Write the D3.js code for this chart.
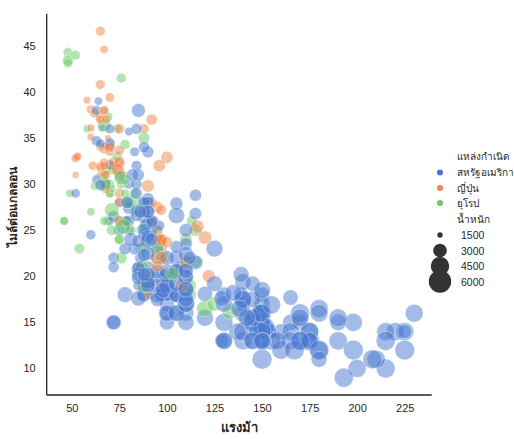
<!DOCTYPE html>
<html><head><meta charset="utf-8">
<script src="https://cdn.jsdelivr.net/npm/d3@7"></script>
<style>
html,body{margin:0;padding:0;background:#fff;}
text{font-family:"Liberation Sans","DejaVu Sans",sans-serif;fill:#262626;}
</style></head>
<body><svg id="c" width="514" height="439"></svg>
<script>
const U="usa",J="japan",E="europe";
const origins=[U,J,E];
const originLabels=["สหรัฐอเมริกา","ญี่ปุ่น","ยุโรป"];
const palette=["#4878d0","#ee854a","#6acc64"];
const xTicks=[50,75,100,125,150,175,200,225];
const yTicks=[10,15,20,25,30,35,40,45];
const sizeLegend=[1500,3000,4500,6000];
const xLabel="แรงม้า", yLabel="ไมล์ต่อแกลลอน", hueTitle="แหล่งกำเนิด", sizeTitle="น้ำหนัก";

const mpg=[
18,15,18,16,17,15,14,14,14,15,15,14,15,14,24,22,18,21,27,26,25,24,25,26,21,10,10,11,9,
27,28,25,19,16,17,19,18,14,14,14,14,12,13,13,18,22,19,18,23,28,30,30,31,35,27,26,
24,25,23,20,21,13,14,15,14,17,11,13,12,13,19,15,13,13,14,18,22,21,26,22,28,23,28,27,
13,14,13,14,15,12,13,13,14,13,12,13,18,16,18,18,23,26,11,12,13,12,18,20,21,22,18,19,21,26,15,16,29,24,20,19,15,24,20,11,
20,19,15,31,26,32,25,16,16,18,16,13,14,14,14,29,26,26,31,32,28,24,26,24,26,31,
19,18,15,15,16,15,16,14,17,16,15,18,21,20,13,29,23,20,23,24,25,24,18,29,19,23,23,22,25,33,
28,25,25,26,27,17.5,16,15.5,14.5,22,22,24,22.5,29,24.5,29,33,20,18,18.5,17.5,29.5,32,28,26.5,20,13,19,19,16.5,16.5,13,13,13,
31.5,30,36,25.5,33.5,17.5,17,15.5,15,17.5,20.5,19,18.5,16,15.5,15.5,16,29,24.5,26,25.5,30.5,33.5,30,30.5,22,21.5,21.5,
43.1,36.1,32.8,39.4,36.1,19.9,19.4,20.2,19.2,20.5,20.2,25.1,20.5,19.4,20.6,20.8,18.6,18.1,19.2,17.7,18.1,17.5,30,27.5,27.2,30.9,21.1,23.2,23.8,23.9,20.3,17,21.6,16.2,31.5,29.5,
21.5,19.8,22.3,20.2,20.6,17,17.6,16.5,18.2,16.9,15.5,19.2,18.5,31.9,34.1,35.7,27.4,25.4,23,27.2,23.9,34.2,34.5,31.8,37.3,28.4,28.8,26.8,33.5,
41.5,38.1,32.1,37.2,28,26.4,24.3,19.1,34.3,29.8,31.3,37,32.2,46.6,27.9,40.8,44.3,43.4,36.4,30,44.6,33.8,29.8,23.7,35,32.4,
27.2,26.6,25.8,23.5,30,39.1,39,35.1,32.3,37,37.7,34.1,34.7,34.4,29.9,33,33.7,32.4,32.9,31.6,28.1,30.7,25.4,24.2,22.4,26.6,20.2,17.6,
28,27,34,31,29,27,24,36,37,31,38,36,36,36,34,38,32,38,25,38,26,22,32,36,27,27,44,32,28,31];

const horsepower=[
130,165,150,150,140,198,220,215,225,190,170,160,150,225,95,95,97,85,88,46,87,90,95,113,90,215,200,210,193,
88,90,95,100,105,100,88,100,165,175,153,150,180,170,175,110,72,100,88,86,90,70,76,65,69,60,70,
95,80,54,90,86,165,175,150,153,150,208,155,160,190,97,150,130,140,150,112,76,87,69,86,92,97,80,88,
175,150,145,137,150,198,150,158,150,215,225,175,105,100,100,88,95,46,150,167,170,180,100,88,72,94,90,85,107,90,145,230,49,75,91,112,150,110,122,180,
95,100,100,67,80,65,75,100,110,105,140,150,150,140,150,83,67,78,52,61,75,75,75,97,93,67,
95,105,72,72,170,145,150,148,110,105,110,95,110,110,129,75,83,100,78,96,71,97,97,70,90,95,88,98,115,53,
86,81,92,79,83,140,150,120,152,100,105,81,90,52,60,70,53,100,78,110,95,71,70,75,72,102,150,88,108,120,180,145,130,150,
68,80,58,96,70,145,110,145,130,110,105,100,98,180,170,190,149,78,88,75,89,63,83,67,78,97,110,110,
48,66,52,70,60,110,140,139,105,95,85,88,100,90,105,85,110,120,145,165,139,140,68,95,97,75,95,105,85,97,103,125,115,133,71,68,
115,85,88,90,110,130,129,138,135,155,142,125,150,71,65,80,80,77,125,71,90,70,70,65,69,90,115,115,90,
76,60,70,65,90,88,90,90,78,90,75,92,75,65,105,65,48,48,67,67,67,67,62,100,88,72,
84,84,92,110,84,58,64,60,67,65,62,68,63,65,65,74,75,75,100,74,80,76,116,120,110,105,88,85,
88,88,88,85,84,90,92,74,68,68,63,70,88,75,70,67,67,67,110,85,92,112,96,84,90,86,52,84,79,82];

const weight=[
3504,3693,3436,3433,3449,4341,4354,4312,4425,3850,3563,3609,3761,3086,2372,2833,2774,2587,2130,1835,2672,2430,2375,2234,2648,4615,4376,4382,4732,
2130,2264,2228,2634,3439,3329,3302,3288,4209,4464,4154,4096,4955,4746,5140,2962,2408,3282,3139,2220,2123,2074,2065,1773,1613,1834,1955,
2278,2126,2254,2408,2226,4274,4385,4135,4129,3672,4633,4502,4456,4422,2330,3892,4098,4294,4077,2933,2511,2979,2189,2395,2288,2506,2164,2100,
4100,3672,3988,4042,3777,4952,4464,4363,4237,4735,4951,3821,3121,3278,2945,3021,2904,1950,4997,4906,4654,4499,2789,2279,2401,2379,2124,2310,2472,2265,4082,4278,1867,2158,2582,2868,3399,2660,2807,3664,
3102,2901,3336,1950,2451,1836,2542,3781,3632,3613,4141,4699,4457,4638,4257,2219,1963,2300,1649,2003,2125,2108,2246,2489,2391,2000,
3264,3459,3432,3158,4668,4440,4498,4657,3907,3897,3730,3785,3039,3221,3169,2171,2639,2914,2592,2702,2223,2545,2984,1937,3211,2694,2957,2945,2671,1795,
2464,2220,2572,2255,2202,4215,4190,3962,4215,3233,3353,3012,3085,2035,2164,1937,1795,3651,3574,3645,3193,1825,1990,2155,2565,3150,3940,3270,2930,3820,4380,4055,3870,3755,
2045,2155,1825,2300,1945,3880,4060,4140,4295,3520,3425,3630,3525,4220,4165,4325,4335,1940,2740,2265,2755,2051,2075,1985,2190,2815,2600,2720,
1985,1800,1985,2070,1800,3365,3735,3570,3535,3155,2965,2720,3430,3210,3380,3070,3620,3410,3425,3445,3205,4080,2155,2560,2300,2230,2515,2745,2855,2405,2830,3140,2795,3410,1990,2135,
3245,2990,2890,3265,3360,3840,3725,3955,3830,4360,4054,3605,3940,1925,1975,1915,2670,3530,3900,3190,3420,2200,2150,2020,2130,2670,2595,2700,2556,
2144,1968,2120,2019,2678,2870,3003,3381,2188,2711,2542,2434,2265,2110,2800,2110,2085,2335,2950,3250,1850,2145,1845,2420,2500,2290,
2490,2635,2620,2725,2385,1755,1875,1760,2065,1975,2050,1985,2215,2045,2380,2190,2210,2350,2615,2635,3230,3160,2900,2930,3415,3725,3060,3465,
2605,2640,2395,2575,2525,2735,2865,1980,2025,1970,2125,2125,2160,2205,2245,1965,1965,1995,2945,3015,2585,2835,2665,2370,2950,2790,2130,2295,2625,2720];

const origin=[
U,U,U,U,U,U,U,U,U,U,U,U,U,U,J,U,U,U,J,E,E,E,E,E,U,U,U,U,U,
J,U,J,U,U,U,U,U,U,U,U,U,U,U,U,U,U,U,U,U,E,E,E,J,J,E,U,
J,U,E,U,U,U,U,U,U,U,U,U,U,U,J,U,U,U,U,E,E,E,E,U,J,J,U,J,
U,U,U,U,U,U,U,U,U,U,U,U,U,U,U,U,U,E,U,U,U,U,U,J,U,J,J,U,U,E,U,U,E,E,E,E,U,E,J,U,
U,U,U,J,U,J,U,U,U,U,U,U,U,U,U,E,E,E,J,J,U,E,E,J,J,E,
U,U,U,U,U,U,U,U,U,U,U,U,U,U,U,J,U,U,U,J,E,J,U,E,U,E,E,E,E,J,
E,E,U,U,E,U,U,U,U,U,U,U,U,U,U,E,J,U,U,U,U,E,J,J,U,E,U,E,J,E,U,U,U,U,
J,U,E,U,J,U,U,U,U,U,U,U,U,U,U,U,U,E,U,J,U,U,U,J,E,J,E,J,
E,U,J,J,J,U,U,U,U,U,U,U,U,U,U,U,U,U,U,U,U,U,U,J,J,U,J,U,U,J,E,E,E,E,E,J,
U,U,U,U,U,U,U,U,U,U,U,U,U,E,J,U,U,E,U,E,U,U,U,J,E,U,U,U,U,
E,J,U,J,U,U,U,U,E,J,J,J,J,J,U,J,E,E,E,E,J,J,E,J,E,J,
U,U,U,U,U,J,U,J,J,J,J,J,U,U,U,E,J,J,J,J,E,E,J,J,U,U,U,U,
U,U,U,U,U,U,U,E,J,J,U,U,J,J,J,J,J,J,U,U,U,U,J,U,U,U,E,U,U,U];

const svg=d3.select("#c");
const L=46.7,R=431.7,T=13.8,B=395;
const hpExt=d3.extent(horsepower), mpgExt=d3.extent(mpg);
const px=(hpExt[1]-hpExt[0])*0.05, py=(mpgExt[1]-mpgExt[0])*0.05;
const x=d3.scaleLinear().domain([hpExt[0]-px,hpExt[1]+px]).range([L,R]);
const y=d3.scaleLinear().domain([mpgExt[0]-py,mpgExt[1]+py]).range([B,T]);
const color=d3.scaleOrdinal().domain(origins).range(palette);
const wExt=d3.extent(weight);
const sArea=d3.scaleLinear().domain(wExt).range([40,400]); // points^2
const ptpx=1.014;
const rad=w=>Math.sqrt(Math.max(sArea(w),1))/2*ptpx;

const n=Math.min(mpg.length,horsepower.length,weight.length,origin.length);
const idx=d3.range(n);
svg.append("g").selectAll("circle").data(idx).join("circle")
  .attr("cx",i=>x(horsepower[i])).attr("cy",i=>y(mpg[i])).attr("r",i=>rad(weight[i]))
  .attr("fill",i=>color(origin[i])).attr("fill-opacity",0.5)
  .attr("stroke","#fff").attr("stroke-opacity",0.5).attr("stroke-width",0.7);

// axes
const xAxis=svg.append("g").attr("transform",`translate(0,${B})`)
  .call(d3.axisBottom(x).tickValues(xTicks).tickSize(0).tickPadding(9));
const yAxis=svg.append("g").attr("transform",`translate(${L},0)`)
  .call(d3.axisLeft(y).tickValues(yTicks).tickSize(0).tickPadding(11));
[xAxis,yAxis].forEach(a=>{
  a.select(".domain").attr("stroke","#262626").attr("stroke-width",1.3);
  a.selectAll("text").attr("font-size",11).attr("fill","#262626")
   .style("font-family",'"Liberation Sans",sans-serif');
});
xAxis.select(".domain").attr("d",`M${L},0H${R}`);
yAxis.select(".domain").attr("d",`M0,${B}V${T}`);

svg.append("text").attr("x",(L+R)/2).attr("y",427).attr("text-anchor","middle")
  .attr("dominant-baseline","central").attr("font-size",13).attr("font-weight","bold").text(xLabel);
svg.append("text").attr("transform",`translate(13,${(T+B)/2+3}) rotate(-90)`).attr("text-anchor","middle")
  .attr("dominant-baseline","central").attr("font-size",12).attr("font-weight","bold").text(yLabel);

// legend
const lg=svg.append("g");
const hx=440, tx=457;
lg.append("text").attr("x",tx).attr("y",156).attr("dominant-baseline","central").attr("font-size",10).text(hueTitle);
const hueY=[172.5,188,203];
origins.forEach((o,k)=>{
  lg.append("circle").attr("cx",hx).attr("cy",hueY[k]).attr("r",3).attr("fill",color(o));
  lg.append("text").attr("x",tx).attr("y",hueY[k]).attr("dominant-baseline","central").attr("font-size",10).text(originLabels[k]);
});
lg.append("text").attr("x",tx).attr("y",219).attr("dominant-baseline","central").attr("font-size",10).text(sizeTitle);
const sizeY=[235,250.5,266,281.5];
sizeLegend.forEach((w,k)=>{
  lg.append("circle").attr("cx",hx).attr("cy",sizeY[k]).attr("r",rad(w)).attr("fill","#333333");
  lg.append("text").attr("x",tx+4).attr("y",sizeY[k]).attr("dominant-baseline","central").attr("font-size",10.5).text(w);
});
</script></body></html>
